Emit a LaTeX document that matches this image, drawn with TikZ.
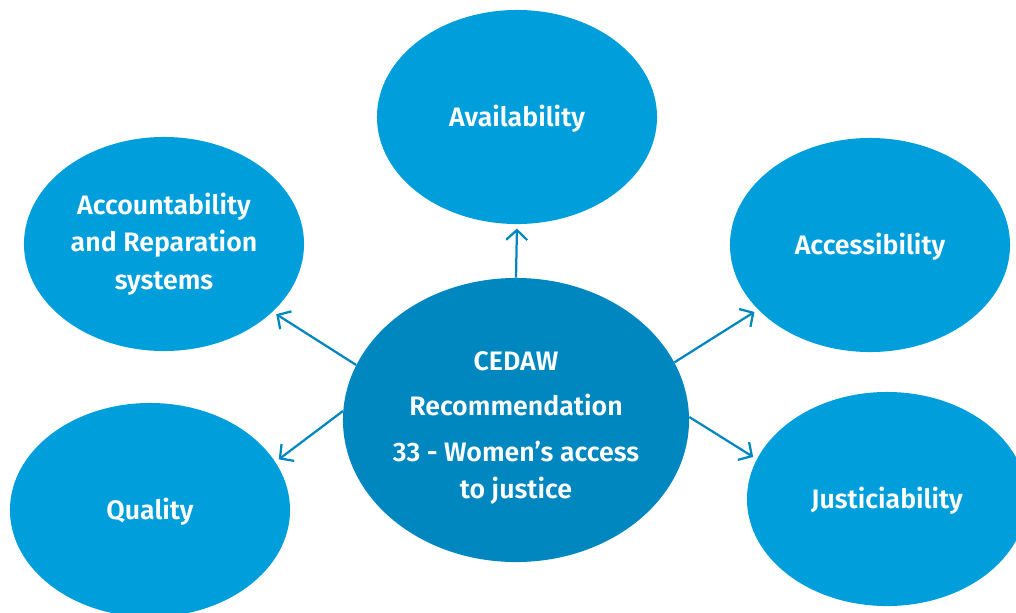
\documentclass[tikz,border=0pt]{standalone}
\usepackage{fontspec}
\setmainfont{Fira Sans}[BoldFont={Fira Sans SemiBold}]
\usetikzlibrary{shapes.geometric,arrows.meta}
\definecolor{outerblue}{RGB}{0,158,219}
\definecolor{innerblue}{RGB}{0,135,192}
\begin{document}
\begin{tikzpicture}[x=0.025cm, y=-0.025cm,
    labeltext/.style = {text=white, align=center, font=\bfseries\fontsize{19}{26.5}\selectfont},
    main/.style = {ellipse, fill=outerblue, labeltext, inner sep=0pt, text height=18pt, text depth=4pt,
                   minimum width=7cm, minimum height=5.35cm},
    hub/.style = {ellipse, fill=innerblue, minimum width=8.65cm, minimum height=7.1cm},
    link/.style = {draw=innerblue, line width=1.6pt, -{Straight Barb[length=7pt, width=15pt]}, shorten >=3pt}]
    \useasboundingbox (0,0) rectangle (1016,612);
                  \node[hub, label={[labeltext, yshift=-5.7pt]center:{CEDAW\\[6pt]Recommendation\\[6pt]33 - Women’s access\\to justice}}](c) at (516,420) {};
                  \node[main](avail) at (517,117) {Availability};
                  \node[main, text height={}, text depth={}](acct) at (164,244) {Accountability\\and Reparation\\systems};
                  \node[main](acce) at (870,245) {Accessibility};
                  \node[main](qual) at (150,510) {Quality};
                  \node[main](just) at (887,499) {Justiciability};
                  \draw[link] (c.90) -- (avail.270);
                  \draw[link] (c.161) -- (acct.-32);
                  \draw[link] (c.177) -- (qual.21);
                  \draw[link] (c.20) -- (acce.210);
                  \draw[link] (c.1) -- (just.163);
          \end{tikzpicture}
\end{document}
